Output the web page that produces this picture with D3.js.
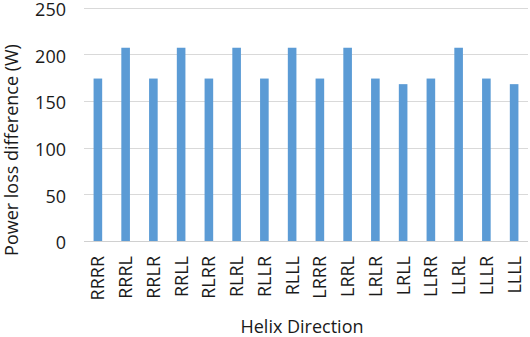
<!DOCTYPE html>
<html>
<head>
<meta charset="utf-8">
<script src="https://cdn.jsdelivr.net/npm/d3@7"></script>
<style>
body{margin:0;background:#fff;}
text{font-family:"Open Sans","Noto Sans",sans-serif;fill:#1a1a1a;}
</style>
</head>
<body>
<div id="chart"></div>
<script>
const categories=["RRRR","RRRL","RRLR","RRLL","RLRR","RLRL","RLLR","RLLL","LRRR","LRRL","LRLR","LRLL","LLRR","LLRL","LLLR","LLLL"];
const values=[174,207,174,207,174,207,174,207,174,207,174,168,174,207,174,168];
const yTicks=[0,50,100,150,200,250];

const width=530,height=337;
const svg=d3.select("#chart").append("svg").attr("width",width).attr("height",height);

const x=d3.scaleBand().domain(categories).range([84,528]).paddingInner(0.69).paddingOuter(0.345);
const y=d3.scaleLinear().domain([0,250]).range([241,7.6]);

// grid
svg.append("g").selectAll("line").data(yTicks).enter().append("line")
.attr("x1",84).attr("x2",528)
.attr("y1",d=>Math.round(y(d))+0.5).attr("y2",d=>Math.round(y(d))+0.5)
.attr("stroke",d=>d===0?"#d0d0d0":"#d9d9d9").attr("stroke-width",1);

// y labels
svg.append("g").selectAll("text").data(yTicks).enter().append("text")
.attr("x",66).attr("y",d=>y(d)+2).attr("dy","0.36em")
.attr("text-anchor","end").style("font-size","18px").text(d=>d);

// bars
svg.selectAll(".bar").data(values).enter().append("rect")
.attr("x",(d,i)=>x(categories[i]))
.attr("y",d=>y(d)).attr("width",x.bandwidth())
.attr("height",d=>y(0)-y(d)).attr("fill","#5b9bd5");

// x labels
svg.append("g").selectAll("text").data(categories).enter().append("text")
.attr("transform",d=>"translate("+(x(d)+x.bandwidth()/2)+",256) rotate(-90)")
.attr("dy","0.36em").attr("text-anchor","end").style("font-size","18px").text(d=>d);

svg.append("text").attr("x",302).attr("y",333).attr("text-anchor","middle")
.style("font-size","18px").text("Helix Direction");

svg.append("text").attr("transform","translate(18,150) rotate(-90)")
.attr("text-anchor","middle").style("font-size","18px").text("Power loss difference (W)");
</script>
</body>
</html>
